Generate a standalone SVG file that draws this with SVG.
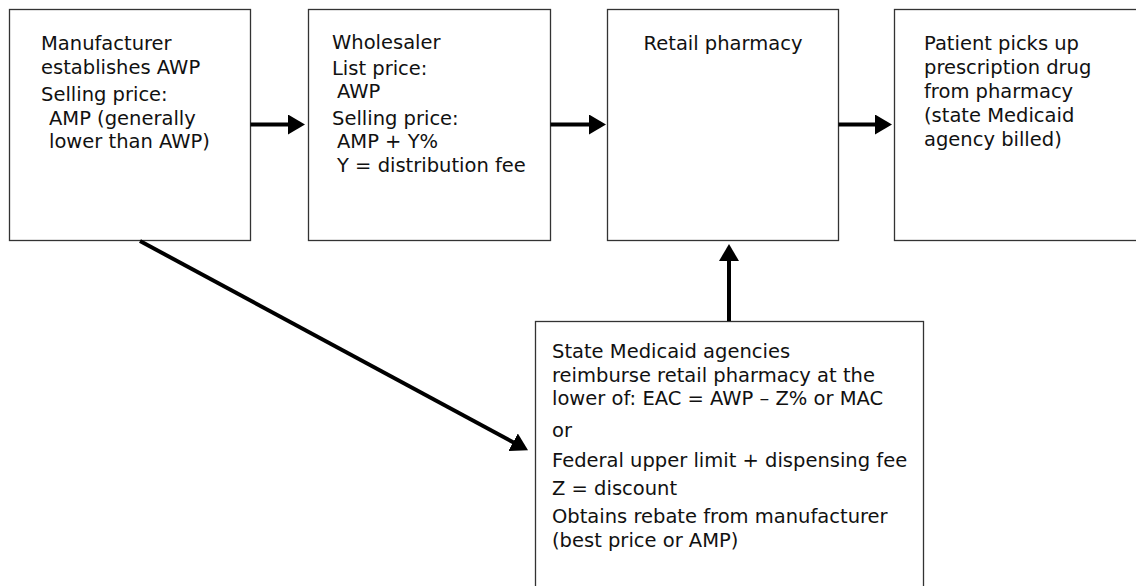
<svg xmlns="http://www.w3.org/2000/svg" width="1136" height="586" viewBox="0 0 1136 586">
<style>
.box{fill:#fff;stroke:#333;stroke-width:1.3}
.t{font-family:"DejaVu Sans","Open Sans",sans-serif;font-size:19.5px;fill:#111}
.c{stroke:#000;stroke-width:4;fill:none}
</style>
<defs>
<marker id="ah" markerUnits="userSpaceOnUse" viewBox="0 0 17 20" refX="9" refY="10" markerWidth="17" markerHeight="20" orient="auto">
<path d="M0,0 L17,10 L0,20 Z" fill="#000"/>
</marker>
</defs>
<rect width="1136" height="586" fill="#fff"/>
<g id="manufacturer">
<rect class="box" x="9.5" y="9.5" width="241" height="231"/>
<text class="t" x="41" y="50">Manufacturer</text>
<text class="t" x="41" y="74">establishes AWP</text>
<text class="t" x="41" y="101">Selling price:</text>
<text class="t" x="49" y="125">AMP (generally</text>
<text class="t" x="49" y="148">lower than AWP)</text>
</g>
<g id="wholesaler">
<rect class="box" x="308.5" y="9.5" width="242" height="231"/>
<text class="t" x="332" y="49">Wholesaler</text>
<text class="t" x="332" y="75">List price:</text>
<text class="t" x="337" y="98">AWP</text>
<text class="t" x="332" y="125">Selling price:</text>
<text class="t" x="337" y="148">AMP + Y%</text>
<text class="t" x="337" y="172">Y = distribution fee</text>
</g>
<g id="retail">
<rect class="box" x="607.5" y="9.5" width="231" height="231"/>
<text class="t" x="723" y="50" text-anchor="middle">Retail pharmacy</text>
</g>
<g id="patient">
<rect class="box" x="894.5" y="9.5" width="260" height="231"/>
<text class="t" x="924" y="50">Patient picks up</text>
<text class="t" x="924" y="74">prescription drug</text>
<text class="t" x="924" y="98">from pharmacy</text>
<text class="t" x="924" y="122">(state Medicaid</text>
<text class="t" x="924" y="146">agency billed)</text>
</g>
<g id="medicaid">
<rect class="box" x="535.5" y="321.5" width="388" height="280"/>
<text class="t" x="552" y="358">State Medicaid agencies</text>
<text class="t" x="552" y="382">reimburse retail pharmacy at the</text>
<text class="t" x="552" y="405">lower of: EAC = AWP – Z% or MAC</text>
<text class="t" x="552" y="437">or</text>
<text class="t" x="552" y="467">Federal upper limit + dispensing fee</text>
<text class="t" x="552" y="495">Z = discount</text>
<text class="t" x="552" y="523">Obtains rebate from manufacturer</text>
<text class="t" x="552" y="547">(best price or AMP)</text>
</g>
<g id="connectors">
<path class="c" d="M250.5,124.5 H297" marker-end="url(#ah)"/>
<path class="c" d="M550.5,124.5 H598" marker-end="url(#ah)"/>
<path class="c" d="M838.5,124.5 H884" marker-end="url(#ah)"/>
<path class="c" d="M729,321 V252" marker-end="url(#ah)"/>
<path class="c" d="M140,241 L521,446.5" marker-end="url(#ah)"/>
</g>
</svg>
